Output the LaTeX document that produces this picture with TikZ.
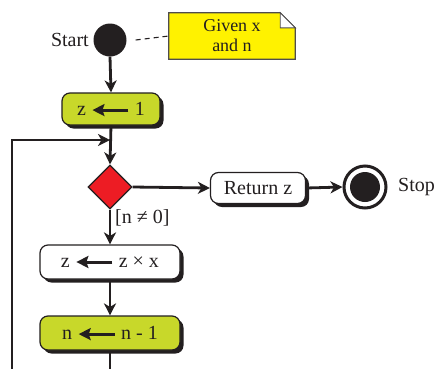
\documentclass[tikz,border=0pt]{standalone}
\usepackage{fontspec}
\setmainfont{Liberation Serif}
\usetikzlibrary{arrows.meta,shapes.geometric,shadows}
\definecolor{ink}{HTML}{231F20}
\definecolor{lime}{HTML}{C8D82A}
\definecolor{decred}{HTML}{ED1C24}
\definecolor{noteyel}{HTML}{FFF200}
% thick left-pointing arrow used inside the assignment boxes
\newcommand{\assignarrow}{\tikz[baseline=-0.55ex,x=1pt,y=1pt]\draw[ink,line width=3pt,-{Stealth[length=12pt,width=12pt,inset=2pt]}] (36,0)--(0,0);}
\tikzset{
  flow/.style={draw=ink,line width=2.8pt,-{Stealth[length=12pt,width=12pt,inset=3.5pt]}},
  actbox/.style={draw=ink,line width=1.2pt,rounded corners=8pt,inner sep=0pt,
    font=\fontsize{20}{22}\selectfont,text=ink,
    drop shadow={shadow xshift=3.5pt,shadow yshift=-3.5pt,fill=ink,opacity=1}},
  startdot/.style={circle,fill=ink,minimum size=33pt,inner sep=0pt},
  lbl/.style={font=\fontsize{20}{22}\selectfont,text=ink,inner sep=0pt},
}
\begin{document}
\begin{tikzpicture}[x=1pt,y=-1pt]
\useasboundingbox[fill=white] (0,0) rectangle (440,368);

% start and its note
\node[startdot] (start) at (110,40) {};
\node[lbl,anchor=east] (startlbl) at (89,40) {Start};
\node[minimum width=126pt,minimum height=46pt,inner sep=0pt] (note) at (232,36) {};
\fill[noteyel,draw=ink!80,line width=1.2pt]
  (note.north west) -- ([xshift=-15pt]note.north east) -- ([yshift=-15pt]note.north east)
  -- (note.south east) -- (note.south west) -- cycle;
\fill[white,draw=ink!80,line width=0.9pt]
  ([xshift=-15pt]note.north east) -- ([xshift=-15pt,yshift=-15pt]note.north east)
  -- ([yshift=-15pt]note.north east) -- cycle;
\node[align=center,font=\fontsize{18}{20}\selectfont,text=ink] (notetxt) at (note.center) {Given x\\and n};
\draw[ink,line width=1.1pt,dash pattern=on 5pt off 4pt] ([xshift=9pt]start.east) -- (note.west);

% main loop
\node[actbox,fill=lime,minimum width=98pt,minimum height=32pt] (z1) at (111,109) {z \assignarrow\ 1};
\node[diamond,fill=decred,draw=ink,line width=1.2pt,minimum width=44pt,minimum height=44pt,inner sep=0pt] (dec) at (110,187) {};
\node[actbox,fill=white,minimum width=95pt,minimum height=31pt] (ret) at (258,188) {Return z};
\node[circle,draw=ink,line width=3pt,fill=white,minimum size=42pt,inner sep=0pt] (stop) at (365,187) {};
\fill[ink] (stop.center) circle (15pt);
\node[lbl,anchor=west] (stoplbl) at (398,187) {Stop};
\node[actbox,fill=white,minimum width=140pt,minimum height=34pt] (mul) at (110,262) {z \assignarrow\ z × x};
\node[actbox,fill=lime,minimum width=140pt,minimum height=34pt] (dec1) at (110,333) {n \assignarrow\ n - 1};
\node[lbl,anchor=west] (guard) at (115,218) {[n ≠ 0]};

\coordinate (merge) at (110,140);
\coordinate (below) at (110,385);
\coordinate (back) at (12,140);

\draw[flow] (start.south) -- (z1.north);
\draw[flow] (z1.south) -- (dec.north);
\draw[flow] (dec.east) -- (ret.west);
\draw[flow] (ret.east) -- (stop.west);
\draw[flow] (dec.south) -- (mul.north);
\draw[flow] (mul.south) -- (dec1.north);
\draw[flow] (dec1.south) -- (below) -| (back) -- (merge);
\end{tikzpicture}
\end{document}
